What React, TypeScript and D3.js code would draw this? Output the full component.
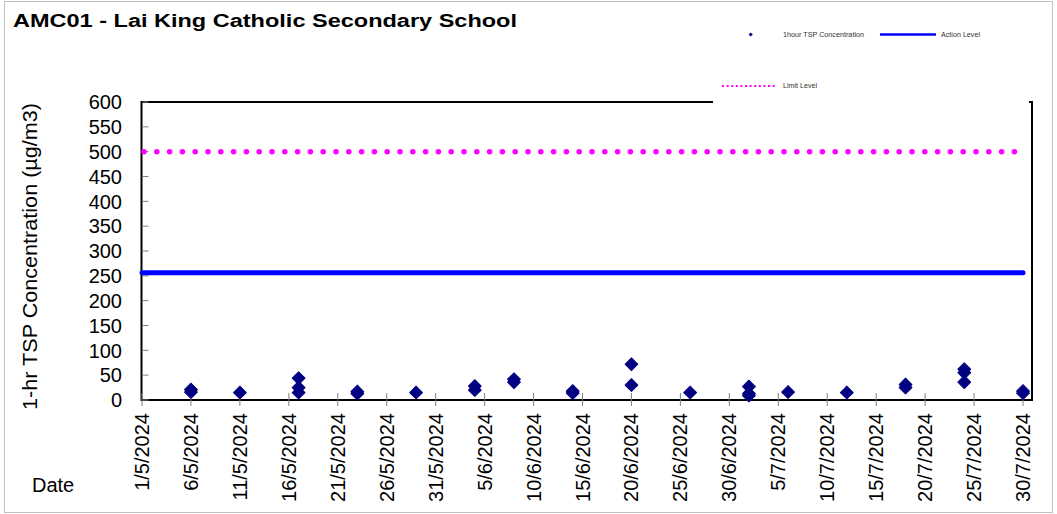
import React from "react";
import * as d3 from "d3";

const W = 1057;
const H = 514;

const sampleDates: string[] = [
  "2024-05-06", "2024-05-06",
  "2024-05-11",
  "2024-05-17", "2024-05-17", "2024-05-17",
  "2024-05-23", "2024-05-23",
  "2024-05-29",
  "2024-06-04", "2024-06-04",
  "2024-06-08", "2024-06-08",
  "2024-06-14", "2024-06-14",
  "2024-06-20", "2024-06-20",
  "2024-06-26",
  "2024-07-02", "2024-07-02", "2024-07-02",
  "2024-07-06",
  "2024-07-12",
  "2024-07-18", "2024-07-18",
  "2024-07-24", "2024-07-24", "2024-07-24",
  "2024-07-30", "2024-07-30",
];
const tspValues: number[] = [
  21, 16,
  15,
  44, 25, 15,
  17, 13,
  15,
  28, 20,
  42, 36,
  18, 14,
  72, 30,
  15,
  27, 13, 9,
  16,
  15,
  31, 25,
  62, 55, 36,
  18, 14,
];
const actionLevel = 256;
const limitLevel = 500;
const yTicks: number[] = [0, 50, 100, 150, 200, 250, 300, 350, 400, 450, 500, 550, 600];
const xTickLabels: string[] = [
  "1/5/2024", "6/5/2024", "11/5/2024", "16/5/2024", "21/5/2024", "26/5/2024",
  "31/5/2024", "5/6/2024", "10/6/2024", "15/6/2024", "20/6/2024", "25/6/2024",
  "30/6/2024", "5/7/2024", "10/7/2024", "15/7/2024", "20/7/2024", "25/7/2024", "30/7/2024",
];
const xDomain: [string, string] = ["2024-05-01", "2024-07-31"];

const parseDate = d3.timeParse("%Y-%m-%d");
const parseLabel = d3.timeParse("%d/%m/%Y");

const FONT = "'Liberation Sans', Arial, sans-serif";

export default function App() {
  const left = 141.5;
  const right = 1032;
  const top = 102;
  const bottom = 400;

  const x = d3
    .scaleTime()
    .domain([parseDate(xDomain[0])!, parseDate(xDomain[1])!])
    .range([142, 1032.8]);
  const y = d3.scaleLinear().domain([0, 600]).range([bottom, top]);

  const diamond = d3.symbol().type(d3.symbolSquare).size(82)()!;
  const legendDiamond = d3.symbol().type(d3.symbolSquare).size(9)()!;

  const points = sampleDates.map((d, i) => ({ date: parseDate(d)!, v: tspValues[i] }));
  const lastTick = parseLabel(xTickLabels[xTickLabels.length - 1])!;

  return (
    <div style={{ position: "absolute", left: 0, top: 0, width: W, height: H }}>
      <svg width={W} height={H} style={{ display: "block", fontFamily: FONT }}>
        <rect x={0} y={0} width={W} height={H} fill="#fff" />
        <rect x={4.5} y={1.5} width={1048} height={511} fill="none" stroke="#c0c0c0" strokeWidth={1} />

        {/* title */}
        <text x={13} y={27} fontSize={18} fontWeight="bold" fill="#000" textLength={504} lengthAdjust="spacingAndGlyphs">
          AMC01  - Lai King Catholic Secondary School
        </text>

        {/* plot frame */}
        <rect x={left} y={top} width={right - left} height={bottom - top} fill="none" stroke="#000" strokeWidth={2} />

        {/* legend background covering part of top border */}
        <rect x={713} y={14} width={316} height={89} fill="#fff" />

        {/* y ticks */}
        {yTicks.map((t) => (
          <g key={"y" + t}>
            <line x1={left + 1} x2={left + 7} y1={y(t)} y2={y(t)} stroke="#808080" strokeWidth={1} />
            <text x={122} y={y(t)} dy="0.36em" textAnchor="end" fontSize={20} fill="#000">
              {t}
            </text>
          </g>
        ))}

        {/* x ticks */}
        {xTickLabels.map((lbl) => {
          const xd = x(parseLabel(lbl)!);
          return (
            <g key={lbl}>
              <line x1={xd} x2={xd} y1={bottom - 7} y2={bottom + 6} stroke="#808080" strokeWidth={1} />
              <text
                transform={`translate(${xd + 7},413) rotate(-90)`}
                textAnchor="end"
                fontSize={20}
                fill="#000"
              >
                {lbl}
              </text>
            </g>
          );
        })}

        {/* limit level */}
        <line
          x1={144}
          x2={x(lastTick)}
          y1={y(limitLevel)}
          y2={y(limitLevel)}
          stroke="#ff00ff"
          strokeWidth={5.5}
          strokeLinecap="round"
          strokeDasharray="0 12.8"
        />
        {/* action level */}
        <line
          x1={x(parseDate(xDomain[0])!)}
          x2={x(lastTick)}
          y1={y(actionLevel)}
          y2={y(actionLevel)}
          stroke="#0000ff"
          strokeWidth={5}
          strokeLinecap="round"
        />

        {/* data */}
        {points.map((p, i) => (
          <path
            key={i}
            d={diamond}
            transform={`translate(${x(p.date)},${y(p.v)}) rotate(45)`}
            fill="#000080"
            stroke="#000080"
            strokeWidth={1}
            strokeLinejoin="round"
          />
        ))}

        {/* axis titles */}
        <text
          transform="translate(37,256.5) rotate(-90)"
          textAnchor="middle"
          fontSize={21}
          fill="#000"
          textLength={307}
          lengthAdjust="spacingAndGlyphs"
        >
          1-hr TSP Concentration (µg/m3)
        </text>
        <text x={32} y={492} fontSize={20} fill="#000">
          Date
        </text>

        {/* legend */}
        <path d={legendDiamond} transform="translate(750.7,34.5) rotate(45)" fill="#000080" />
        <text x={783} y={34.5} dy="0.35em" fontSize={7} fill="#333" textLength={81} lengthAdjust="spacingAndGlyphs">
          1hour TSP Concentration
        </text>
        <line x1={880} x2={936} y1={34.5} y2={34.5} stroke="#0000ff" strokeWidth={2.5} />
        <text x={941} y={34.5} dy="0.35em" fontSize={7} fill="#333" textLength={39} lengthAdjust="spacingAndGlyphs">
          Action Level
        </text>
        <line
          x1={722}
          x2={776}
          y1={86}
          y2={86}
          stroke="#ff00ff"
          strokeWidth={2}
          strokeDasharray="2 2.6"
        />
        <text x={783} y={86} dy="0.35em" fontSize={7} fill="#333" textLength={34} lengthAdjust="spacingAndGlyphs">
          Limit Level
        </text>
      </svg>
    </div>
  );
}
